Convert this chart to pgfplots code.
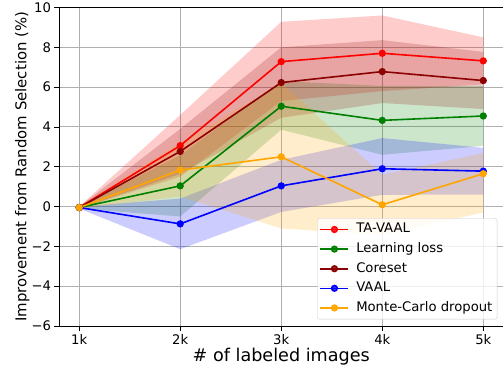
\documentclass[border=0pt]{standalone}
\usepackage{fontspec}
\setmainfont{DejaVu Sans}
\usepackage{pgfplots}
\pgfplotsset{compat=1.18}
\definecolor{mplgreen}{HTML}{008000}
\definecolor{mpldarkred}{HTML}{8B0000}
\definecolor{mplorange}{HTML}{FFA500}
\definecolor{mplblue}{HTML}{0000FF}
\definecolor{mplred}{HTML}{FF0000}
\definecolor{gridgray}{HTML}{B0B0B0}
\definecolor{legedge}{HTML}{CCCCCC}
\begin{document}
\begin{tikzpicture}
\useasboundingbox (0,0) rectangle (503bp,366bp);
\begin{axis}[
  at={(59bp,40bp)}, anchor=south west,
  scale only axis, width=444.5bp, height=318.5bp,
  xmin=0.8, xmax=5.2, ymin=-6, ymax=10,
  xtick={1,2,3,4,5}, xticklabels={1k,2k,3k,4k,5k},
  ytick={-6,-4,-2,0,2,4,6,8,10}, yticklabels={−6,−4,−2,0,2,4,6,8,10},
  grid=major, major grid style={gridgray, line width=1bp},
  tick align=outside, xtick pos=left, ytick pos=left,
  major tick length=4.5bp,
  tick style={black, line width=0.8bp},
  axis line style={black, line width=0.8bp},
  ticklabel style={font=\fontsize{13.2bp}{15bp}\selectfont},
  xlabel={\# of labeled images},
  ylabel={Improvement from Random Selection (\%)},
  xlabel style={font=\fontsize{17.6bp}{20bp}\selectfont, at={(axis description cs:0.5,-0.110)}, anchor=base},
  ylabel style={font=\fontsize{14.9bp}{17bp}\selectfont, at={(axis description cs:-0.0736,0.5)}, anchor=base},
  legend cell align=left,
  legend image code/.code={\draw[mark repeat=2,mark phase=2,#1] plot coordinates {(0bp,0bp)(14bp,0bp)(28bp,0bp)}; \path (32.5bp,0bp);},
  legend style={at={(axis description cs:1,0)}, anchor=south east, xshift=-6.2bp, yshift=6.7bp,
    draw=legedge, rounded corners=2bp, fill=white, fill opacity=0.8, text opacity=1,
    inner xsep=2.2bp, inner ysep=2.5bp,
    font=\fontsize{13.2bp}{15bp}\selectfont, row sep=2.2bp,
    nodes={text height=9.6bp, text depth=2.8bp, inner sep=2.5bp}},
]
% bands
\addplot[draw=none, fill=mplred, fill opacity=0.2, forget plot] coordinates {(1,0)(2,4.6)(3,9.28)(4,9.6)(5,8.5)(5,6.14)(4,5.8)(3,5.3)(2,1.5)(1,-0.1)} --cycle;
\addplot[draw=none, fill=mplgreen, fill opacity=0.2, forget plot] coordinates {(1,0)(2,2.58)(3,6.3)(4,6.06)(5,6.05)(5,3.05)(4,2.6)(3,3.86)(2,-0.5)(1,-0.1)} --cycle;
\addplot[draw=none, fill=mpldarkred, fill opacity=0.2, forget plot] coordinates {(1,0)(2,3.9)(3,8.0)(4,8.36)(5,7.77)(5,4.9)(4,5.2)(3,4.46)(2,1.64)(1,-0.1)} --cycle;
\addplot[draw=none, fill=mplblue, fill opacity=0.2, forget plot] coordinates {(1,0)(2,0.40)(3,2.35)(4,3.44)(5,2.95)(5,0.6)(4,0.59)(3,-0.27)(2,-2.14)(1,-0.1)} --cycle;
\addplot[draw=none, fill=mplorange, fill opacity=0.2, forget plot] coordinates {(1,0)(2,3.2)(3,6.2)(4,1.6)(5,2.69)(5,-0.3)(4,-1.42)(3,-1.1)(2,0.5)(1,-0.1)} --cycle;
% lines
\addplot[mplred, line width=1.6bp, mark=*, mark size=2.8bp] coordinates {(1,-0.05)(2,3.06)(3,7.28)(4,7.70)(5,7.32)};
\addlegendentry{TA-VAAL}
\addplot[mplgreen, line width=1.6bp, mark=*, mark size=2.8bp] coordinates {(1,-0.05)(2,1.04)(3,5.04)(4,4.33)(5,4.55)};
\addlegendentry{Learning loss}
\addplot[mpldarkred, line width=1.6bp, mark=*, mark size=2.8bp] coordinates {(1,-0.05)(2,2.77)(3,6.23)(4,6.78)(5,6.33)};
\addlegendentry{Coreset}
\addplot[mplblue, line width=1.6bp, mark=*, mark size=2.8bp] coordinates {(1,-0.05)(2,-0.87)(3,1.04)(4,1.90)(5,1.78)};
\addlegendentry{VAAL}
\addplot[mplorange, line width=1.6bp, mark=*, mark size=2.8bp] coordinates {(1,-0.05)(2,1.83)(3,2.50)(4,0.09)(5,1.65)};
\addlegendentry{Monte-Carlo dropout}
\end{axis}
\end{tikzpicture}
\end{document}
